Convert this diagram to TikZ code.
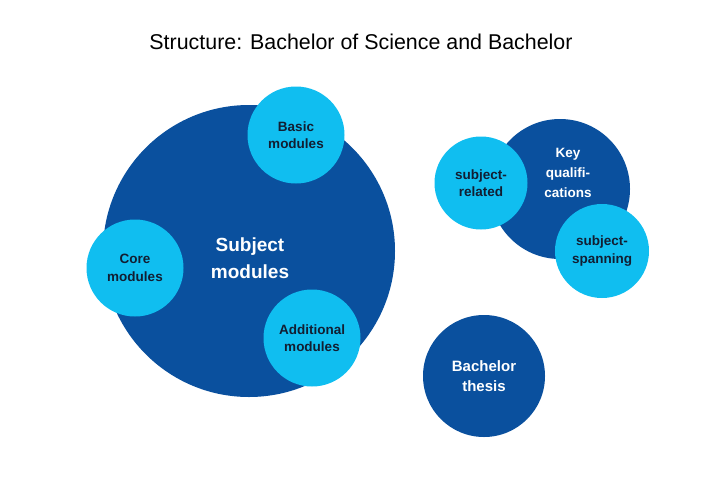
\documentclass[tikz,border=0pt]{standalone}
\usepackage{fontspec}
\setmainfont{Liberation Sans}
\usepackage{tikz}
\definecolor{darkblue}{RGB}{10,80,158}
\definecolor{lightblue}{RGB}{16,190,240}
\definecolor{navytext}{RGB}{18,30,50}
\tikzset{D/.style={circle, fill=darkblue, inner sep=0pt}}
\tikzset{T/.style={text=white, align=center, inner sep=0pt}}
\tikzset{L/.style={circle, fill=lightblue, text=navytext, align=center, inner sep=0pt, minimum size=97pt,
    font=\bfseries\fontsize{13.5}{17.5}\selectfont}}

\begin{document}
\begin{tikzpicture}[x=1pt, y=-1pt]
            \useasboundingbox (0,0) rectangle (720,480);
            % title
            \node (title) at (361,42) {\fontsize{21.4}{25}\selectfont Structure: Bachelor of Science and Bachelor};
            % subject modules
            \node[D, minimum size=292pt] (subject) at (249,251) {};
            \node[T, font=\bfseries\fontsize{19}{27}\selectfont] (subjecttext) at (250,258) {Subject\\modules};
            \node[L] (basic) at (296,135) {Basic\\modules};
            \node[L] (core) at (135,268) {Core\\modules};
            \node[L] (additional) at (312,338) {Additional\\modules};
            % key qualifications
            \node[D, minimum size=140pt] (key) at (560,189) {};
            \node[T, font=\bfseries\fontsize{13.5}{20}\selectfont] (keytext) at (568,173) {Key\\qualifi-\\cations};
            \node[L, minimum size=93pt] (related) at (481,183) {subject-\\related};
            \node[L, minimum size=94pt] (spanning) at (602,251) {subject-\\spanning};
            % thesis
            \node[D, minimum size=122pt] (thesis) at (484,376) {};
            \node[T, font=\bfseries\fontsize{15}{20}\selectfont] (thesistext) at (484,376) {Bachelor\\thesis};
        \end{tikzpicture}
\end{document}
